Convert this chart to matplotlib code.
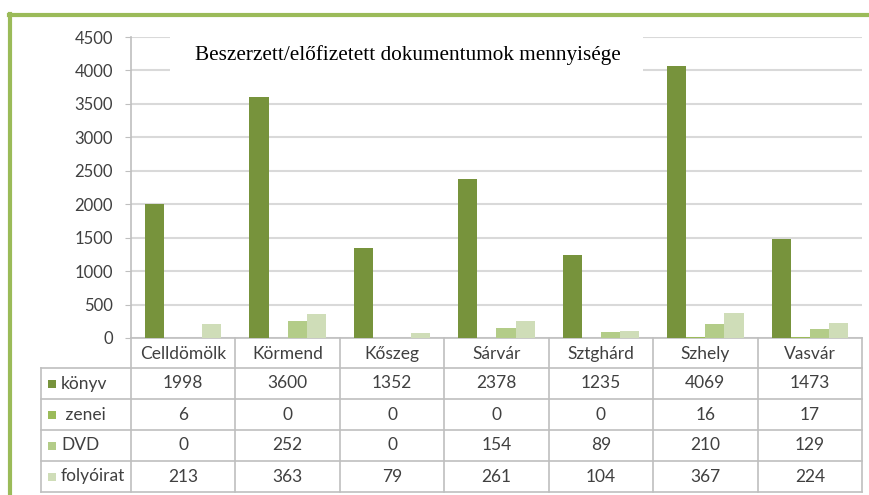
import matplotlib
matplotlib.use("Agg")
import matplotlib.pyplot as plt
from matplotlib.lines import Line2D
from matplotlib.patches import Rectangle
import matplotlib.transforms as mtransforms

categories = ["Celldömölk", "Körmend", "Kőszeg", "Sárvár", "Sztghárd", "Szhely", "Vasvár"]
series_names = ["könyv", " zenei", "DVD", "folyóirat"]
konyv = [1998, 3600, 1352, 2378, 1235, 4069, 1473]
zenei = [6, 0, 0, 0, 0, 16, 17]
dvd = [0, 252, 0, 154, 89, 210, 129]
folyoirat = [213, 363, 79, 261, 104, 367, 224]
series_values = [konyv, zenei, dvd, folyoirat]
colors = ["#77933C", "#9BBB59", "#B3CC88", "#CFDDB8"]
yticks = [0, 500, 1000, 1500, 2000, 2500, 3000, 3500, 4000, 4500]
title = "Beszerzett/előfizetett dokumentumok mennyisége"

W, H = 869, 495
fig = plt.figure(figsize=(W / 100, H / 100), dpi=100)
fig.patch.set_facecolor("white")

def fx(x):
    return x / W

def fy(y):
    return 1 - y / H

TXT = "#404040"
GRID = "#D9D9D9"
LINE = "#BFBFBF"
FONT = "Lato"
FS = 12.5

ax_l, ax_r, ax_t, ax_b = 131, 862, 37, 338
ax = fig.add_axes([fx(ax_l), fy(ax_b), fx(ax_r - ax_l), (ax_b - ax_t) / H])
n = len(categories)
bw = 0.183
for k, vals in enumerate(series_values):
    xs = [i + (k - 1.5) * bw for i in range(n)]
    ax.bar(xs, vals, width=bw, color=colors[k], zorder=3, linewidth=0)

ax.set_xlim(-0.5, n - 0.5)
ax.set_ylim(0, 4500)
ax.set_yticks(yticks)
ax.set_yticklabels([str(t) for t in yticks], fontsize=12, color=TXT, family=FONT)
ax.set_xticks([])
ax.yaxis.grid(True, color=GRID, linewidth=1.5, zorder=0)
ax.set_axisbelow(True)
for s in ["top", "right"]:
    ax.spines[s].set_visible(False)
ax.spines["left"].set_color(LINE)
ax.spines["bottom"].set_color(LINE)
ax.spines["left"].set_linewidth(1.2)
ax.spines["bottom"].set_linewidth(1.2)
ax.tick_params(axis="y", length=4.5, color=LINE, pad=8.5)
ax.tick_params(axis="x", length=0)

# title box covering gridlines
fig.add_artist(Rectangle((fx(170), fy(85)), fx(643 - 170), (85 - 28) / H,
                         facecolor="white", edgecolor="none", zorder=5))
fig.text(fx(408), fy(55), title, ha="center", va="center", fontsize=15.3,
         family="Liberation Serif", color="black", zorder=6)

# data table
tr = mtransforms.blended_transform_factory(ax.transData, fig.transFigure)
row_h = 31
header_top, header_bot = 338, 368
rows_y = [header_bot + r * row_h for r in range(len(series_names) + 1)]
lw = 1.2
for y in rows_y:
    fig.add_artist(Line2D([fx(41), fx(ax_r)], [fy(y), fy(y)], color=LINE, lw=lw))
for i in range(n + 1):
    x = i - 0.5
    fig.add_artist(Line2D([x, x], [fy(header_top), fy(rows_y[-1])], color=LINE, lw=lw,
                          transform=tr))
fig.add_artist(Line2D([fx(41), fx(41)], [fy(header_bot), fy(rows_y[-1])], color=LINE, lw=lw))
for i, c in enumerate(categories):
    fig.text(i, fy((header_top + header_bot) / 2 + 1), c, transform=tr, ha="center", va="center",
             fontsize=FS, color=TXT, family=FONT)
for r, (name, vals) in enumerate(zip(series_names, series_values)):
    yc = fy(rows_y[r] + row_h / 2)
    fig.add_artist(Rectangle((fx(48), yc - 4 / H), 8 / W, 8 / H,
                             facecolor=colors[r], edgecolor="none"))
    fig.text(fx(61), yc, name, ha="left", va="center", fontsize=FS, color=TXT, family=FONT)
    for i, v in enumerate(vals):
        fig.text(i, yc, str(v), transform=tr, ha="center", va="center",
                 fontsize=FS, color=TXT, family=FONT)

# green frame (top and left)
BORDER = "#9BBB59"
fig.add_artist(Line2D([fx(9), 1], [fy(15), fy(15)], color=BORDER, lw=3))
fig.add_artist(Line2D([fx(10), fx(10)], [fy(14), 0], color=BORDER, lw=3))

fig.savefig("out.png", dpi=100, facecolor="white")
